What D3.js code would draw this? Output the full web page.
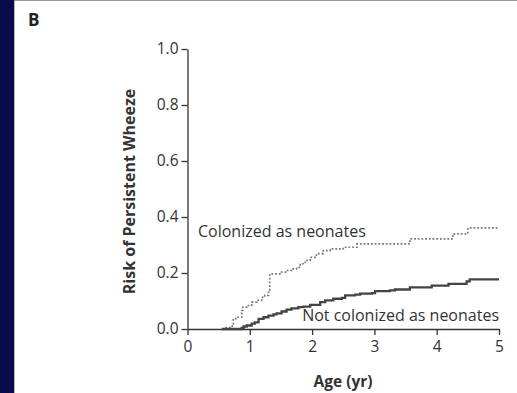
<!DOCTYPE html>
<html>
<head>
<meta charset="utf-8">
<script src="https://cdn.jsdelivr.net/npm/d3@7/dist/d3.min.js"></script>
<style>
  html, body { margin: 0; padding: 0; background: #ffffff; }
  svg { display: block; }
  text { font-family: "Open Sans", "DejaVu Sans", sans-serif; fill: #333; }
</style>
</head>
<body>
<svg id="chart" width="517" height="393"></svg>
<script>
// Kaplan-Meier style cumulative risk, step points: [age in years, risk]
const colonizedAges  = [0.57, 0.62, 0.70, 0.735, 0.81, 0.87, 0.89, 0.95, 1.03, 1.11, 1.19, 1.24, 1.30, 1.32, 1.51, 1.59, 1.67, 1.75, 1.81, 1.89, 1.97, 2.07, 2.18, 2.29, 2.50, 2.72, 3.57, 4.26, 4.50, 5.00];
const colonizedRisk  = [0.00, 0.005, 0.01, 0.037, 0.042, 0.066, 0.078, 0.084, 0.096, 0.102, 0.113, 0.12, 0.131, 0.197, 0.203, 0.209, 0.215, 0.22, 0.233, 0.245, 0.256, 0.269, 0.28, 0.286, 0.292, 0.304, 0.322, 0.34, 0.361, 0.361];

const notColonizedAges = [0.55, 0.87, 0.90, 0.95, 1.03, 1.08, 1.14, 1.22, 1.30, 1.38, 1.43, 1.51, 1.59, 1.67, 1.78, 1.86, 1.97, 2.13, 2.21, 2.34, 2.48, 2.53, 2.69, 2.77, 2.96, 3.01, 3.25, 3.33, 3.57, 3.92, 4.19, 4.48, 4.53, 5.00];
const notColonizedRisk = [0.00, 0.004, 0.009, 0.0125, 0.019, 0.024, 0.036, 0.042, 0.048, 0.052, 0.056, 0.0625, 0.069, 0.074, 0.078, 0.08, 0.086, 0.096, 0.102, 0.108, 0.111, 0.12, 0.123, 0.126, 0.128, 0.135, 0.138, 0.141, 0.149, 0.155, 0.161, 0.17, 0.177, 0.177];

const xTicks = [0, 1, 2, 3, 4, 5];
const yTicks = [0, 0.2, 0.4, 0.6, 0.8, 1.0];

const svg = d3.select("#chart");

// page frame: dark band on the left, hairline on top
svg.append("rect").attr("x", 0).attr("y", 0).attr("width", 517).attr("height", 393).attr("fill", "#ffffff");
svg.append("rect").attr("x", 0).attr("y", 0).attr("width", 14).attr("height", 393).attr("fill", "#0a0a4c");
svg.append("line").attr("x1", 14.5).attr("x2", 14.5).attr("y1", 0).attr("y2", 393).attr("stroke", "#bbb").attr("stroke-width", 1);
svg.append("line").attr("x1", 14).attr("x2", 517).attr("y1", 0.5).attr("y2", 0.5).attr("stroke", "#999").attr("stroke-width", 1);

svg.append("text").attr("x", 28).attr("y", 26)
  .style("font-weight", "bold").style("font-size", "17px").style("fill", "#222").text("B");

const x = d3.scaleLinear().domain([0, 5]).range([187.5, 499]);
const y = d3.scaleLinear().domain([0, 1]).range([329, 49]);

// axes
const xAxis = d3.axisBottom(x).tickValues(xTicks).tickFormat(d3.format("d")).tickSize(6).tickSizeOuter(0).tickPadding(6);
const yAxis = d3.axisLeft(y).tickValues(yTicks).tickFormat(d3.format(".1f")).tickSize(6).tickSizeOuter(0).tickPadding(3);

const gx = svg.append("g").attr("transform", `translate(0,${y(0)})`).call(xAxis);
const gy = svg.append("g").attr("transform", `translate(${x(0)},0)`).call(yAxis);
[gx, gy].forEach(g => {
  g.select(".domain").attr("stroke", "#333").attr("stroke-width", 1.3);
  g.selectAll(".tick line").attr("stroke", "#333").attr("stroke-width", 1.3);
  g.selectAll(".tick text").style("font-size", "15.5px").style("fill", "#333")
    .style("font-family", '"Open Sans", "DejaVu Sans", sans-serif');
});

// curves
const line = d3.line().curve(d3.curveStepAfter).x(d => x(d[0])).y(d => y(d[1]));
const colonized = colonizedAges.map((a, i) => [a, colonizedRisk[i]]);
const notColonized = notColonizedAges.map((a, i) => [a, notColonizedRisk[i]]);

svg.append("path").datum(colonized).attr("d", line)
  .attr("fill", "none").attr("stroke", "#777").attr("stroke-width", 1.7)
  .attr("stroke-dasharray", "1.8,1.9");
svg.append("path").datum(notColonized).attr("d", line)
  .attr("fill", "none").attr("stroke", "#444").attr("stroke-width", 2.3);

// curve labels
svg.append("text").attr("x", 198).attr("y", 236.5).style("font-size", "16px").text("Colonized as neonates");
svg.append("text").attr("x", 499).attr("y", 320.5).attr("text-anchor", "end").style("font-size", "16px").text("Not colonized as neonates");

// axis titles
svg.append("text").attr("x", 343).attr("y", 387).attr("text-anchor", "middle")
  .style("font-weight", "bold").style("font-size", "15.5px").text("Age (yr)");
svg.append("text").attr("transform", "translate(135,191.5) rotate(-90)").attr("text-anchor", "middle")
  .style("font-weight", "bold").style("font-size", "16px").text("Risk of Persistent Wheeze");
</script>
</body>
</html>
